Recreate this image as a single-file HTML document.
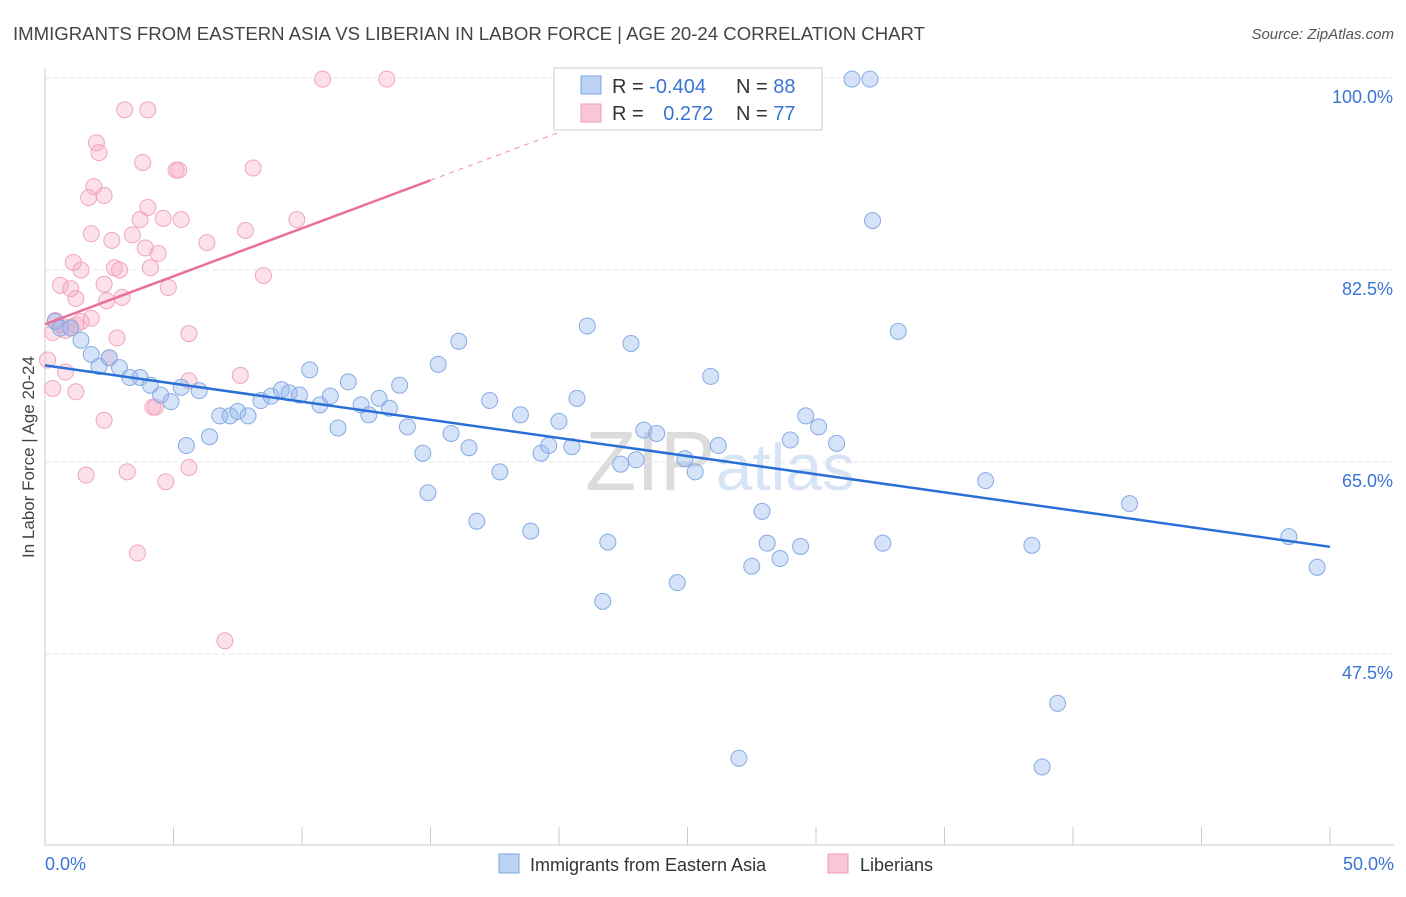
<!DOCTYPE html>
<html><head><meta charset="utf-8"><style>
body{margin:0;background:#fff;font-family:"Liberation Sans",sans-serif;}
svg text{font-family:"Liberation Sans",sans-serif;}
</style></head><body>
<svg id="c" width="1406" height="892">
<text x="13" y="40" font-size="18" fill="#444" textLength="912" lengthAdjust="spacingAndGlyphs">IMMIGRANTS FROM EASTERN ASIA VS LIBERIAN IN LABOR FORCE | AGE 20-24 CORRELATION CHART</text>
<text x="1394" y="39" font-size="15" fill="#555" font-style="italic" text-anchor="end">Source: ZipAtlas.com</text>
<text transform="translate(34,457) rotate(-90)" font-size="17" fill="#444" text-anchor="middle">In Labor Force | Age 20-24</text>
<text x="720" y="490" font-size="84" fill="#ddd" text-anchor="middle" font-family="Liberation Serif"><tspan fill="#dcdcdc">ZIP</tspan><tspan fill="#d6e4f6" font-family="Liberation Sans" font-size="66">atlas</tspan></text>
<g id="grid"></g><g id="axes"></g><g id="marks"></g><g id="trend"></g>
<g>
<rect x="554" y="68" width="268" height="62" fill="#fff" stroke="#ccc"/>
<rect x="581" y="76" width="20" height="18" fill="#bcd3f5" stroke="#7ba3e0"/>
<rect x="581" y="104" width="20" height="18" fill="#f9c8d8" stroke="#ee9bb8"/>
<text x="612" y="93" font-size="20" fill="#333">R = <tspan fill="#3a74d6">-0.404</tspan></text>
<text x="736" y="93" font-size="20" fill="#333">N = <tspan fill="#3a74d6">88</tspan></text>
<text x="612" y="120" font-size="20" fill="#333">R = <tspan fill="#3a74d6" dx="14">0.272</tspan></text>
<text x="736" y="120" font-size="20" fill="#333">N = <tspan fill="#3a74d6">77</tspan></text>
</g>
<g>
<rect x="499" y="854" width="20" height="19" fill="#bcd3f5" stroke="#7ba3e0"/>
<text x="530" y="871" font-size="18" fill="#333">Immigrants from Eastern Asia</text>
<rect x="828" y="854" width="20" height="19" fill="#f9c8d8" stroke="#ee9bb8"/>
<text x="860" y="871" font-size="18" fill="#333">Liberians</text>
</g>
<text x="45" y="870" font-size="18" fill="#3a74d6">0.0%</text>
<text x="1394" y="870" font-size="18" fill="#3a74d6" text-anchor="end">50.0%</text>
</svg>
<script>
const blueX=[0.4,0.6,1.0,1.4,1.8,2.1,2.5,2.9,3.3,3.7,4.1,4.5,4.9,5.3,5.5,6.0,6.4,6.8,7.2,7.5,7.9,8.4,8.8,9.2,9.5,9.9,10.3,10.7,11.1,11.4,11.8,12.3,12.6,13.0,13.4,13.8,14.1,14.7,14.9,15.3,15.8,16.1,16.5,16.8,17.3,17.7,18.5,18.9,19.3,19.6,20.0,20.5,20.7,21.1,21.9,21.7,22.4,22.8,23.0,23.3,23.8,24.6,24.9,25.3,25.9,26.2,27.0,27.5,27.9,28.1,28.6,29.0,29.4,29.6,30.1,30.8,31.4,32.1,32.2,32.6,33.2,36.6,38.4,38.8,39.4,42.2,48.4,49.5];
const blueY=[77.8,77.2,77.2,76.1,74.8,73.7,74.5,73.6,72.7,72.7,72.0,71.1,70.5,71.8,66.5,71.5,67.3,69.2,69.2,69.6,69.2,70.6,71.0,71.6,71.3,71.1,73.4,70.2,71.0,68.1,72.3,70.2,69.3,70.8,69.9,72.0,68.2,65.8,62.2,73.9,67.6,76.0,66.3,59.6,70.6,64.1,69.3,58.7,65.8,66.5,68.7,66.4,70.8,77.4,57.7,52.3,64.8,75.8,65.2,67.9,67.6,54.0,65.3,64.1,72.8,66.5,38.0,55.5,60.5,57.6,56.2,67.0,57.3,69.2,68.2,66.7,99.9,99.9,87.0,57.6,76.9,63.3,57.4,37.2,43.0,61.2,58.2,55.4];
const pinkX=[0.3,0.4,0.6,0.8,1.0,1.2,1.4,1.8,0.3,0.6,0.8,1.0,1.1,1.2,1.2,1.4,1.6,1.7,1.8,1.9,2.0,2.1,2.3,2.3,2.3,2.4,2.5,2.6,2.7,2.8,2.9,3.0,3.1,3.2,3.4,3.6,3.7,3.8,3.9,4.0,4.0,4.1,4.2,4.3,4.4,4.6,4.7,4.8,5.1,5.2,5.3,5.6,5.6,5.6,6.3,7.0,7.6,7.8,8.1,8.5,9.8,10.8,13.3,0.1];
const pinkY=[76.8,77.9,77.5,77.0,77.3,77.5,77.8,78.1,71.7,81.1,73.2,80.8,83.2,79.9,71.4,82.5,63.8,89.1,85.8,90.1,94.1,93.2,68.8,89.3,81.2,79.7,74.5,85.2,82.7,76.3,82.5,80.0,97.1,64.1,85.7,56.7,87.1,92.3,84.5,97.1,88.2,82.7,70.0,70.0,84.0,87.2,63.2,80.9,91.6,91.6,87.1,64.5,76.7,72.4,85.0,48.7,72.9,86.1,91.8,82.0,87.1,99.9,99.9,74.3];
const yTicks=[100,82.5,65,47.5];
const yTickLabels=["100.0%","82.5%","65.0%","47.5%"];
const xTicks=[0,5,10,15,20,25,30,35,40,45,50];
const NS="http://www.w3.org/2000/svg";
const X=v=>45+v*25.7, Y=v=>78+(100-v)*10.971;
function mk(tag,attrs,parent){const e=document.createElementNS(NS,tag);for(const k in attrs)e.setAttribute(k,attrs[k]);document.getElementById(parent).appendChild(e);return e;}
yTicks.forEach((t,i)=>{
 const l=mk('line',{x1:45,x2:1394,y1:Y(t),y2:Y(t),stroke:'#e6e6e6','stroke-dasharray':'4,4'},'grid');
 
 
 const tx=mk('text',{x:1393,y:Y(t)+25,'font-size':18,fill:'#3a74d6','text-anchor':'end'},'grid');
 tx.textContent=yTickLabels[i];
 
 
});
const ax=mk('line',{x1:45,x2:45,y1:68,y2:845,stroke:'#ccc'},'axes');


const bx=mk('line',{x1:45,x2:1394,y1:845,y2:845,stroke:'#ccc'},'axes');


xTicks.forEach(t=>{const l=mk('line',{x1:X(t),x2:X(t),y1:827,y2:845,stroke:'#ccc'},'axes');
 
 });
pinkX.forEach((v,i)=>{const c=mk('circle',{cx:X(v),cy:Y(pinkY[i]),r:8,fill:'rgba(245,165,195,0.35)',stroke:'#f0a5c0','stroke-width':1},'marks');
 
 });
blueX.forEach((v,i)=>{const c=mk('circle',{cx:X(v),cy:Y(blueY[i]),r:8,fill:'rgba(150,185,240,0.4)',stroke:'#86abe3','stroke-width':1},'marks');
 
 });
function reg(xs,ys){const n=xs.length;let mx=0,my=0;xs.forEach((x,i)=>{mx+=x;my+=ys[i];});mx/=n;my/=n;let sxy=0,sxx=0;xs.forEach((x,i)=>{sxy+=(x-mx)*(ys[i]-my);sxx+=(x-mx)**2;});const b=sxy/sxx;return [my-b*mx,b];}
const [ba,bb]=reg(blueX,blueY);
const bl=mk('line',{x1:X(0),y1:Y(ba),x2:X(50),y2:Y(ba+bb*50),stroke:'#2a6fd6','stroke-width':2.5},'trend');


const [pa,pb]=reg(pinkX,pinkY);
const pl=mk('line',{x1:X(0),y1:Y(pa),x2:X(15),y2:Y(pa+pb*15),stroke:'#e8709a','stroke-width':2.5},'trend');


const pd=mk('line',{x1:X(15),y1:Y(pa+pb*15),x2:X(20),y2:Y(pa+pb*20),stroke:'#f0a0bc','stroke-width':1.2,'stroke-dasharray':'5,5'},'trend');


</script>
</body></html>
